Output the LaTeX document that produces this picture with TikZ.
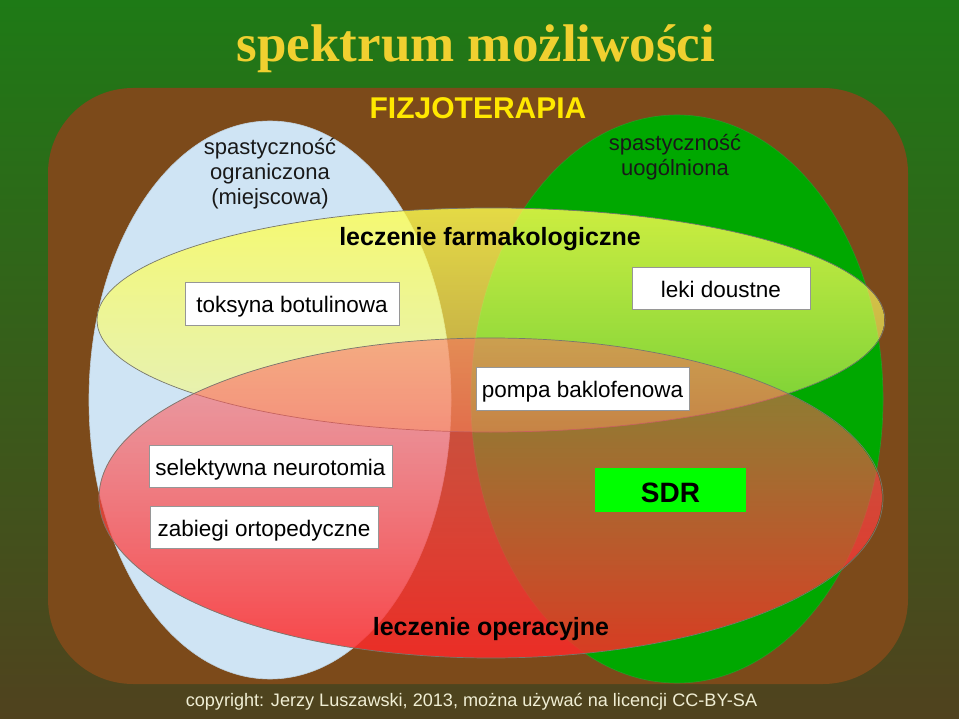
\documentclass[tikz,border=0pt]{standalone}
\usepackage{fontspec}
\setmainfont{Liberation Serif}
\newfontfamily\lsans{Liberation Sans}
\usetikzlibrary{fadings}
\definecolor{bgtop}{RGB}{30,122,22}
\definecolor{bgbot}{RGB}{80,66,30}
\definecolor{brownbox}{RGB}{124,74,26}
\definecolor{lblue}{RGB}{207,228,244}
\definecolor{dgreen}{RGB}{0,168,0}
\definecolor{titleyel}{RGB}{240,208,48}
\definecolor{fizyel}{RGB}{255,232,0}
\definecolor{sdrgreen}{RGB}{0,255,0}
\definecolor{copycol}{RGB}{240,238,212}
\definecolor{edgegray}{RGB}{120,120,110}
\definecolor{boxgray}{RGB}{150,150,150}
\definecolor{yeltop}{RGB}{255,255,80}
\definecolor{yelbot}{RGB}{255,255,115}
\definecolor{redtop}{RGB}{255,100,100}
\definecolor{redbot}{RGB}{255,40,40}
\definecolor{areafont}{RGB}{25,25,25}
\tikzfading[name=yelfade, top color=transparent!20, bottom color=transparent!55]
\tikzfading[name=redfade, top color=transparent!50, bottom color=transparent!15]
\tikzset{
  labelbox/.style={draw=boxgray, fill=white, line width=0.8pt, inner sep=0pt,
    text height=19pt, text depth=0pt,
    font=\lsans\fontsize{22.5}{26}\selectfont, text=black},
  areatext/.style={font=\lsans\fontsize{22}{25}\selectfont, text=areafont, align=center, inner sep=0pt},
  headtext/.style={font=\lsans\bfseries\fontsize{25}{28}\selectfont, text=black, inner sep=0pt, anchor=base},
  ellipseedge/.style={draw=edgegray, line width=0.7pt}
}
\begin{document}
\begin{tikzpicture}[x=1pt,y=-1pt]
  % background
  \shade[top color=bgtop, bottom color=bgbot] (0,0) rectangle (959,719);
  \useasboundingbox (0,0) rectangle (959,719);
  % title
  \node[font=\bfseries\fontsize{53}{60}\selectfont, text=titleyel, anchor=base, inner sep=0pt] (title) at (476,62) {spektrum możliwości};
  % physiotherapy area
  \fill[brownbox, rounded corners=85pt] (48,88) rectangle (908,684);
  \node[font=\lsans\bfseries\fontsize{30}{34}\selectfont, text=fizyel, anchor=base, inner sep=0pt] (fizjo) at (478,119) {FIZJOTERAPIA};
  % local / generalized spasticity
  \filldraw[fill=lblue, draw=lblue!80!gray, line width=0.6pt] (270,400) ellipse [x radius=181pt, y radius=279pt];
  \filldraw[fill=dgreen, draw=dgreen!70!gray, line width=0.6pt] (677,399) ellipse [x radius=206pt, y radius=284pt];
  % pharmacological treatment
  \path[path fading=yelfade, top color=yeltop, bottom color=yelbot] (491,320) ellipse [x radius=394pt, y radius=112pt];
  \draw[ellipseedge] (491,320) ellipse [x radius=394pt, y radius=112pt];
  % surgical treatment
  \path[path fading=redfade, top color=redtop, bottom color=redbot] (491,498) ellipse [x radius=392pt, y radius=160pt];
  \draw[ellipseedge] (491,498) ellipse [x radius=392pt, y radius=160pt];
  % area texts
  \node[areatext] (local) at (270,174) {spastyczność\\ograniczona\\(miejscowa)};
  \node[areatext] (general) at (675,157) {spastyczność\\uogólniona};
  \node[headtext] (farm) at (490,246) {leczenie farmakologiczne};
  \node[headtext] (oper) at (491,635) {leczenie operacyjne};
  % boxes
  \node[labelbox, minimum width=214pt, minimum height=43pt] (tox) at (292,303.5) {toksyna botulinowa};
  \node[labelbox, minimum width=178pt, minimum height=42pt] (leki) at (721,288) {leki doustne};
  \node[labelbox, minimum width=213pt, minimum height=43pt] (pompa) at (582.5,388.5) {pompa baklofenowa};
  \node[labelbox, minimum width=243pt, minimum height=42pt] (selek) at (270.5,466) {selektywna neurotomia};
  \node[labelbox, minimum width=228pt, minimum height=42pt] (zab) at (264,527) {zabiegi ortopedyczne};
  \node[labelbox, fill=sdrgreen, draw=sdrgreen, minimum width=150pt, minimum height=43pt,
        text height=24pt, font=\lsans\bfseries\fontsize{28}{30}\selectfont] (sdr) at (670.5,490) {SDR};
  % copyright
  \node[font=\lsans\fontsize{18.1}{21}\selectfont, text=copycol, anchor=base, inner sep=0pt] (copy) at (471.5,706) {copyright: Jerzy Luszawski, 2013, można używać na licencji CC-BY-SA};
\end{tikzpicture}
\end{document}
